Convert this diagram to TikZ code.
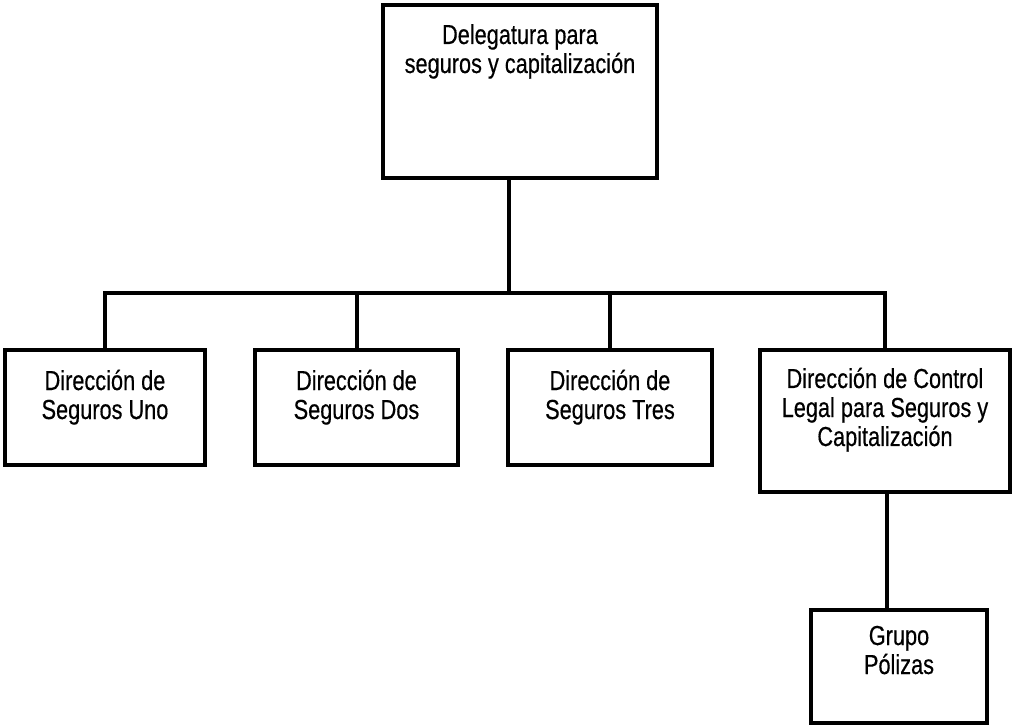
\documentclass[tikz,border=0pt]{standalone}
\usepackage{fontspec}
\setmainfont{Liberation Sans}[FakeStretch=0.79, FakeBold=0.4]
\newcommand{\orgbox}[4]{\parbox[c][#2][t]{#1}{\centering\rule{0pt}{#3}#4}}
\tikzset{
  unit/.style={draw=black, line width=4pt, inner sep=0pt, outer sep=0pt, fill=white,
    font=\fontsize{27.5}{29}\selectfont},
  conn/.style={draw=black, line width=4pt, line join=miter}
}
\begin{document}
\begin{tikzpicture}[x=1pt, y=-1pt]
\useasboundingbox (0,0) rectangle (1013,727);
\node[unit] (top) at (520,91.5) {\orgbox{274pt}{173pt}{39pt}{Delegatura para\\seguros y capitalización}};
\node[unit] (d1) at (105,407.5) {\orgbox{200pt}{115pt}{40pt}{Dirección de\\Seguros Uno}};
\node[unit] (d2) at (356.5,407.5) {\orgbox{203pt}{115pt}{40pt}{Dirección de\\Seguros Dos}};
\node[unit] (d3) at (610,407.5) {\orgbox{204pt}{115pt}{40pt}{Dirección de\\Seguros Tres}};
\node[unit] (d4) at (885,421) {\orgbox{250pt}{142pt}{38pt}{Dirección de Control\\Legal para Seguros y\\Capitalización}};
\node[unit] (d5) at (899,666.5) {\orgbox{176pt}{113pt}{35pt}{Grupo\\Pólizas}};
\coordinate (j0) at (509,293);
\draw[conn] (top.south -| j0) -- (j0);
\draw[conn] (d1.north) |- (d4.north |- j0) -- (d4.north);
\draw[conn] (d2.north) -- (d2.north |- j0);
\draw[conn] (d3.north) -- (d3.north |- j0);
\draw[conn] ([xshift=1.5pt]d4.south) -- ([xshift=1.5pt]d4.south |- d5.north);
\end{tikzpicture}
\end{document}
